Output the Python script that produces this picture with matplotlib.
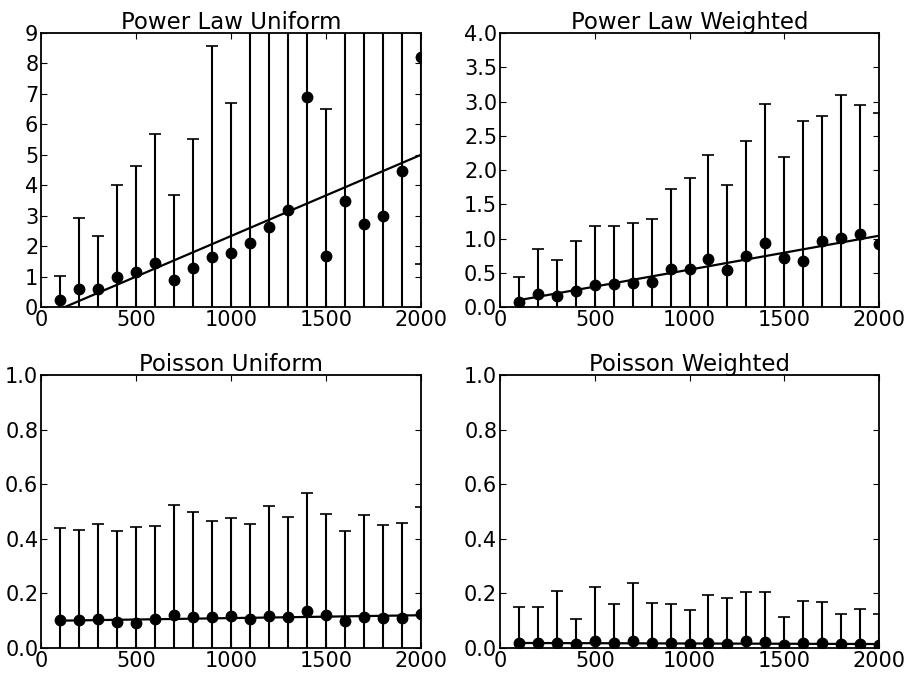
import matplotlib
matplotlib.use("Agg")
import matplotlib.pyplot as plt
import numpy as np

x_vals = [100, 200, 300, 400, 500, 600, 700, 800, 900, 1000,
          1100, 1200, 1300, 1400, 1500, 1600, 1700, 1800, 1900, 2000]

# Power Law Uniform
plu_mean = [0.22, 0.59, 0.59, 0.99, 1.15, 1.46, 0.90, 1.27, 1.65, 1.79,
            2.09, 2.63, 3.20, 6.89, 1.67, 3.49, 2.72, 2.99, 4.47, 8.21]
plu_upper = [1.01, 2.94, 2.32, 4.00, 4.64, 5.69, 3.67, 5.53, 8.56, 6.70,
             10.5, 11.0, 11.5, 14.0, 6.52, 11.0, 10.5, 11.0, 12.0, 15.0]
plu_fit = [-0.336, 0.002668]

# Power Law Weighted
plw_mean = [0.08, 0.185, 0.166, 0.234, 0.327, 0.33, 0.346, 0.36, 0.556, 0.556,
            0.70, 0.537, 0.75, 0.937, 0.717, 0.678, 0.966, 1.01, 1.063, 0.92]
plw_upper = [0.44, 0.84, 0.68, 0.97, 1.185, 1.18, 1.23, 1.28, 1.73, 1.88,
             2.22, 1.78, 2.43, 2.96, 2.19, 2.71, 2.785, 3.10, 2.95, 2.83]
plw_fit = [0.0505, 0.000495]

# Poisson Uniform
pu_mean = [0.101, 0.101, 0.107, 0.095, 0.091, 0.107, 0.121, 0.113, 0.112, 0.118,
           0.107, 0.116, 0.113, 0.135, 0.122, 0.100, 0.112, 0.111, 0.109, 0.124]
pu_upper = [0.438, 0.432, 0.455, 0.427, 0.443, 0.448, 0.524, 0.498, 0.467, 0.477,
            0.455, 0.521, 0.480, 0.568, 0.491, 0.430, 0.488, 0.449, 0.459, 0.516]
pu_fit = [0.099, 0.0000105]

# Poisson Weighted
pw_mean = [0.018, 0.018, 0.018, 0.013, 0.024, 0.017, 0.024, 0.020, 0.017, 0.016,
           0.018, 0.016, 0.027, 0.022, 0.011, 0.017, 0.017, 0.013, 0.013, 0.012]
pw_upper = [0.150, 0.150, 0.208, 0.108, 0.224, 0.160, 0.238, 0.163, 0.162, 0.139,
            0.194, 0.182, 0.204, 0.204, 0.115, 0.172, 0.168, 0.124, 0.144, 0.125]
pw_fit = [0.0185, -0.000002]

titles = ["Power Law Uniform", "Power Law Weighted", "Poisson Uniform", "Poisson Weighted"]
means = [plu_mean, plw_mean, pu_mean, pw_mean]
uppers = [plu_upper, plw_upper, pu_upper, pw_upper]
fits = [plu_fit, plw_fit, pu_fit, pw_fit]
ylims = [(0, 9), (0, 4.0), (0, 1.0), (0, 1.0)]
yticks = [np.arange(0, 10, 1), np.arange(0, 4.01, 0.5), np.arange(0, 1.01, 0.2), np.arange(0, 1.01, 0.2)]
yfmt = ["{:.0f}", "{:.1f}", "{:.1f}", "{:.1f}"]

plt.rcParams['font.family'] = ['DejaVu Sans']
fig = plt.figure(figsize=(9.06, 6.74), dpi=100)
positions = [
    [0.0453, 0.5445, 0.4194, 0.4065],
    [0.5519, 0.5445, 0.4183, 0.4065],
    [0.0453, 0.0386, 0.4194, 0.4050],
    [0.5519, 0.0386, 0.4183, 0.4050],
]

for i in range(4):
    ax = fig.add_axes(positions[i])
    xs = np.array(x_vals, dtype=float)
    m = np.array(means[i])
    up = np.array(uppers[i])
    err = up - m
    ax.errorbar(xs, m, yerr=err, fmt='o', color='black', ecolor='black',
                markersize=7.5, elinewidth=1.5, capsize=4, capthick=1.2)
    b0, b1 = fits[i]
    lx = np.array([x_vals[0], x_vals[-1]], dtype=float)
    ax.plot(lx, b0 + b1 * lx, color='black', linewidth=1.6)
    ax.set_xlim(0, 2000)
    ax.set_ylim(*ylims[i])
    ax.set_xticks([0, 500, 1000, 1500, 2000])
    ax.set_yticks(yticks[i])
    ax.set_yticklabels([yfmt[i].format(v) for v in yticks[i]])
    ax.tick_params(direction='in', top=True, right=True, length=4, width=0.8,
                   labelsize=15, pad=2)
    for s in ax.spines.values():
        s.set_linewidth(1.3)
    ax.set_title(titles[i], fontsize=16.5, pad=3)

fig.savefig("out.png", dpi=100)
